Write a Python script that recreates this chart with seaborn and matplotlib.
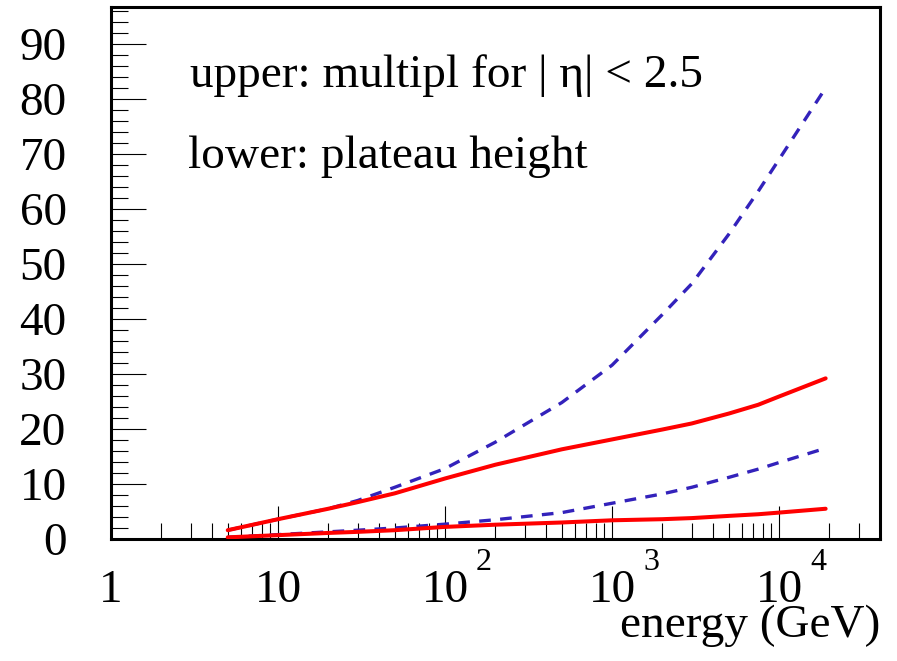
import matplotlib
matplotlib.use("Agg")
import matplotlib.pyplot as plt
from matplotlib.ticker import FixedLocator, MultipleLocator, LogLocator, NullFormatter
import seaborn as sns

# Energies (GeV) and curves
energy = [5, 10, 20, 30, 50, 100, 200, 500, 1000, 2000, 3000, 5000, 7500, 10000, 19000]
mult_model_a = [1.6, 3.6, 5.5, 6.7, 8.3, 11.0, 13.5, 16.3, 18.1, 19.9, 21.0, 22.8, 24.4, 25.9, 29.2]
mult_model_b = [1.6, 3.6, 5.5, 7.0, 9.4, 12.8, 17.6, 24.8, 31.6, 40.8, 46.4, 55.4, 63.2, 69.0, 82.0]
plat_model_a = [0.3, 0.7, 1.1, 1.3, 1.6, 2.2, 2.6, 3.0, 3.4, 3.6, 3.8, 4.2, 4.5, 4.8, 5.5]
plat_model_b = [0.3, 0.8, 1.3, 1.6, 2.0, 2.7, 3.5, 4.8, 6.5, 8.2, 9.4, 11.2, 12.7, 13.9, 16.5]

x_major = [1, 10, 100, 1000, 10000]
x_major_labels = ["1", "10", "10", "10", "10"]
x_exponents = {100: "2", 1000: "3", 10000: "4"}

sns.set_style("ticks")
plt.rcParams["font.family"] = ["Liberation Serif", "DejaVu Serif"]
plt.rcParams["text.color"] = "black"
plt.rcParams["axes.labelcolor"] = "black"
plt.rcParams["xtick.color"] = "black"
plt.rcParams["ytick.color"] = "black"

W, H = 897, 661
fig = plt.figure(figsize=(W / 100, H / 100), dpi=100)
ax = fig.add_axes([111 / W, (H - 539) / H, (880 - 111) / W, (539 - 7) / H])

red = "#ff0000"
blue = "#3322bb"
for y in (mult_model_b, plat_model_b):
    sns.lineplot(x=energy, y=y, ax=ax, color=blue, linewidth=2.4,
                 linestyle=(0, (3.5, 2.8)), zorder=3)
for y in (mult_model_a, plat_model_a):
    sns.lineplot(x=energy, y=y, ax=ax, color=red, linewidth=2.9, zorder=4)

ax.set_xscale("log")
ax.set_xlim(1, 4.02e4)
ax.set_ylim(0, 96.7)

# frame
for s in ax.spines.values():
    s.set_linewidth(2.2)
    s.set_color("black")

fs = 34
# y axis ticks
ax.yaxis.set_major_locator(MultipleLocator(10))
ax.yaxis.set_minor_locator(MultipleLocator(2))
ax.tick_params(axis="y", which="major", direction="in", length=25, width=0.8,
               left=True, right=False, labelsize=fs, pad=32, color="black",
               labelcolor="black")
ax.tick_params(axis="y", which="minor", direction="in", length=12, width=0.8,
               left=True, right=False, color="black")

# x axis ticks
ax.xaxis.set_major_locator(FixedLocator(x_major))
ax.set_xticklabels(x_major_labels)
ax.xaxis.set_minor_locator(LogLocator(base=10, subs=[2, 3, 4, 5, 6, 7, 8, 9], numticks=20))
ax.xaxis.set_minor_formatter(NullFormatter())
ax.tick_params(axis="x", which="major", direction="in", length=24, width=0.8,
               bottom=True, top=False, labelsize=fs, pad=22, color="black",
               labelcolor="black")
ax.tick_params(axis="x", which="minor", direction="in", length=11.5, width=0.8,
               bottom=True, top=False, color="black")

for xv, ex in x_exponents.items():
    ax.annotate(ex, xy=(xv, 0), xycoords=("data", "axes fraction"),
                xytext=(22.3, -22.3), textcoords="offset points",
                ha="left", va="baseline", fontsize=23, color="black")

ax.set_xlabel("energy (GeV)", fontsize=fs, color="black")
ax.xaxis.set_label_coords(1.0, -0.124)
ax.xaxis.label.set_horizontalalignment("right")
ax.set_ylabel("")

ax.text(0.1027, 0.850, "upper: multipl for | \u03b7| < 2.5", transform=ax.transAxes,
        ha="left", va="baseline", fontsize=fs, color="black")
ax.text(0.100, 0.697, "lower: plateau height", transform=ax.transAxes,
        ha="left", va="baseline", fontsize=fs, color="black")

fig.savefig("out.png", dpi=100)
